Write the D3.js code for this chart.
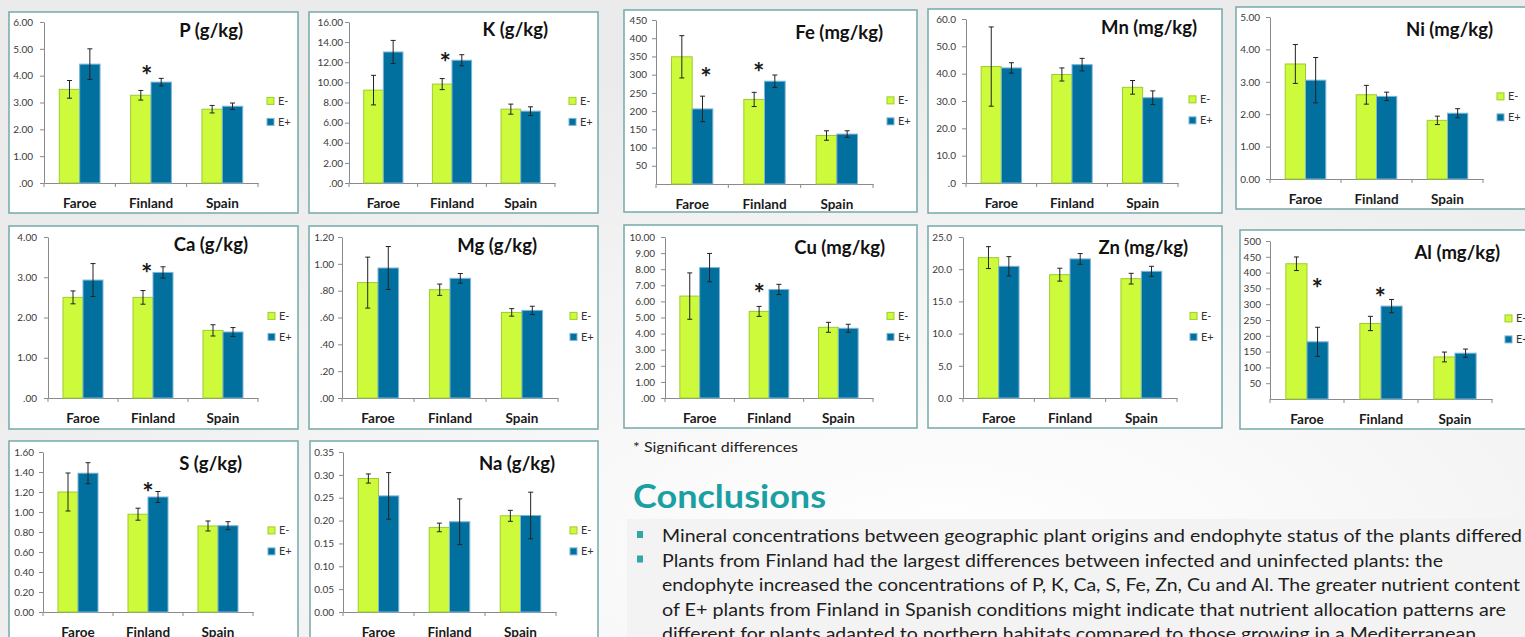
<!DOCTYPE html>
<html>
<head>
<meta charset="utf-8">
<script src="https://cdn.jsdelivr.net/npm/d3@7"></script>
<style>
  html, body { margin: 0; padding: 0; overflow: hidden; background: #f2f2f2; }
  svg { display: block; }
</style>
</head>
<body>
<svg id="slide" width="1525" height="637"></svg>
<script>
// ---- Data --------------------------------------------------------------
const categories = ["Faroe", "Finland", "Spain"];
const seriesNames = ["E-", "E+"];

// Mean concentrations per origin as [E-, E+], and standard errors in the same order
const P_means  = [[3.49, 4.43], [3.27, 3.76], [2.75, 2.86]];
const P_errors = [[0.33, 0.57], [0.18, 0.14], [0.14, 0.12]];
const P_ticks  = [".00", "1.00", "2.00", "3.00", "4.00", "5.00", "6.00"];

const K_means  = [[9.23, 13.02], [9.83, 12.2], [7.34, 7.14]];
const K_errors = [[1.47, 1.15], [0.55, 0.55], [0.5, 0.43]];
const K_ticks  = [".00", "2.00", "4.00", "6.00", "8.00", "10.00", "12.00", "14.00", "16.00"];

const Fe_means  = [[349, 206], [232, 282], [133, 137]];
const Fe_errors = [[58, 35], [19.5, 17], [13, 9]];
const Fe_ticks  = ["50", "100", "150", "200", "250", "300", "350", "400", "450"];

const Mn_means  = [[42.6, 42.1], [39.7, 43.3], [35.0, 31.2]];
const Mn_errors = [[14.5, 1.9], [2.4, 2.3], [2.5, 2.5]];
const Mn_ticks  = [".0", "10.0", "20.0", "30.0", "40.0", "50.0", "60.0"];

const Ni_means  = [[3.55, 3.05], [2.60, 2.55], [1.81, 2.03]];
const Ni_errors = [[0.6, 0.7], [0.29, 0.13], [0.13, 0.14]];
const Ni_ticks  = ["0.00", "1.00", "2.00", "3.00", "4.00", "5.00"];

const Ca_means  = [[2.50, 2.93], [2.50, 3.12], [1.68, 1.64]];
const Ca_errors = [[0.16, 0.41], [0.17, 0.14], [0.14, 0.11]];
const Ca_ticks  = [".00", "1.00", "2.00", "3.00", "4.00"];

const Mg_means  = [[0.86, 0.969], [0.807, 0.892], [0.638, 0.653]];
const Mg_errors = [[0.19, 0.16], [0.042, 0.036], [0.028, 0.031]];
const Mg_ticks  = [".00", ".20", ".40", ".60", ".80", "1.00", "1.20"];

const Cu_means  = [[6.33, 8.10], [5.38, 6.74], [4.39, 4.33]];
const Cu_errors = [[1.44, 0.88], [0.31, 0.32], [0.31, 0.25]];
const Cu_ticks  = [".00", "1.00", "2.00", "3.00", "4.00", "5.00", "6.00", "7.00", "8.00", "9.00", "10.00"];

const Zn_means  = [[21.8, 20.45], [19.15, 21.6], [18.53, 19.67]];
const Zn_errors = [[1.7, 1.5], [1.0, 0.83], [0.83, 0.78]];
const Zn_ticks  = ["0.0", "5.0", "10.0", "15.0", "20.0", "25.0"];

const Al_means  = [[428, 181], [239, 294], [133, 145]];
const Al_errors = [[21.5, 46], [22.6, 21], [15.5, 13]];
const Al_ticks  = ["50", "100", "150", "200", "250", "300", "350", "400", "450", "500"];

const S_means  = [[1.20, 1.388], [0.978, 1.15], [0.86, 0.863]];
const S_errors = [[0.19, 0.105], [0.06, 0.055], [0.05, 0.04]];
const S_ticks  = ["0.00", "0.20", "0.40", "0.60", "0.80", "1.00", "1.20", "1.40", "1.60"];

const Na_means  = [[0.292, 0.254], [0.185, 0.1974], [0.2104, 0.2111]];
const Na_errors = [[0.01, 0.051], [0.0094, 0.05], [0.012, 0.051]];
const Na_ticks  = ["0.00", "0.05", "0.10", "0.15", "0.20", "0.25", "0.30", "0.35"];

// Significance marks: origin, horizontal place within the origin's band (0..1), height in data units
const P_sig  = [{ origin: "Finland", pos: 0.44, level: 4.21 }];
const K_sig  = [{ origin: "Finland", pos: 0.40, level: 12.5 }];
const Fe_sig = [{ origin: "Faroe", pos: 0.69, level: 307 }, { origin: "Finland", pos: 0.42, level: 321 }];
const Ca_sig = [{ origin: "Finland", pos: 0.41, level: 3.23 }];
const Cu_sig = [{ origin: "Finland", pos: 0.36, level: 6.83 }];
const Al_sig = [{ origin: "Faroe", pos: 0.64, level: 367 }, { origin: "Finland", pos: 0.49, level: 339 }];
const S_sig  = [{ origin: "Finland", pos: 0.50, level: 1.25 }];

const footnote = "* Significant differences";
const heading = "Conclusions";
const bulletLines = [
  { text: "Mineral concentrations between geographic plant origins and endophyte status of the plants differed", bullet: true, w: 860 },
  { text: "Plants from Finland had the largest differences between infected and uninfected plants: the", bullet: true, w: 781 },
  { text: "endophyte increased the concentrations of P, K, Ca, S, Fe, Zn, Cu and Al. The greater nutrient content", bullet: false, w: 858 },
  { text: "of E+ plants from Finland in Spanish conditions might indicate that nutrient allocation patterns are", bullet: false, w: 844 },
  { text: "different for plants adapted to northern habitats compared to those growing in a Mediterranean", bullet: false, w: 814 }
];

// ---- Panels: data + placement on the slide ------------------------------
const panels = [
  { title: "P (g/kg)",   means: P_means,  errors: P_errors,  ticks: P_ticks,  sig: P_sig,
    box: [9, 12, 298, 213],    ax: 44,   ar: 258,  yt: 22,  yb: 183, tR: 243,  tB: 37,  legX: 267,  gap: 11 },
  { title: "K (g/kg)",   means: K_means,  errors: K_errors,  ticks: K_ticks,  sig: K_sig,
    box: [309, 12, 598, 213],  ax: 349,  ar: 555,  yt: 22,  yb: 183, tR: 548,  tB: 36,  legX: 569,  gap: 6 },
  { title: "Fe (mg/kg)", means: Fe_means, errors: Fe_errors, ticks: Fe_ticks, sig: Fe_sig,
    box: [624, 10, 917, 212],  ax: 656,  ar: 873,  yt: 20,  yb: 184, tR: 883,  tB: 39,  legX: 887,  gap: 9 },
  { title: "Mn (mg/kg)", means: Mn_means, errors: Mn_errors, ticks: Mn_ticks, sig: [],
    box: [928, 9, 1222, 213],  ax: 966,  ar: 1178, yt: 19,  yb: 183, tR: 1197, tB: 34,  legX: 1189, gap: 10 },
  { title: "Ni (mg/kg)", means: Ni_means, errors: Ni_errors, ticks: Ni_ticks, sig: [],
    box: [1236, 7, 1545, 209], ax: 1270, ar: 1483, yt: 17,  yb: 179, tR: 1493, tB: 36,  legX: 1497, gap: 10 },
  { title: "Ca (g/kg)",  means: Ca_means, errors: Ca_errors, ticks: Ca_ticks, sig: Ca_sig,
    box: [9, 226, 298, 429],   ax: 48,   ar: 258,  yt: 237, yb: 398, tR: 248,  tB: 251, legX: 268,  gap: 11 },
  { title: "Mg (g/kg)",  means: Mg_means, errors: Mg_errors, ticks: Mg_ticks, sig: [],
    box: [309, 226, 598, 429], ax: 342,  ar: 558,  yt: 237, yb: 398, tR: 537,  tB: 252, legX: 570,  gap: 8 },
  { title: "Cu (mg/kg)", means: Cu_means, errors: Cu_errors, ticks: Cu_ticks, sig: Cu_sig,
    box: [624, 225, 917, 428], ax: 665,  ar: 873,  yt: 237, yb: 398, tR: 885,  tB: 254, legX: 887,  gap: 10 },
  { title: "Zn (mg/kg)", means: Zn_means, errors: Zn_errors, ticks: Zn_ticks, sig: [],
    box: [928, 226, 1222, 428], ax: 963, ar: 1177, yt: 237, yb: 398, tR: 1188, tB: 254, legX: 1190, gap: 11 },
  { title: "Al (mg/kg)", means: Al_means, errors: Al_errors, ticks: Al_ticks, sig: Al_sig,
    box: [1240, 230, 1545, 429], ax: 1270, ar: 1492, yt: 241, yb: 399, tR: 1500, tB: 259, legX: 1505, gap: 9 },
  { title: "S (g/kg)",   means: S_means,  errors: S_errors,  ticks: S_ticks,  sig: S_sig,
    box: [9, 441, 298, 665],   ax: 43,   ar: 253,  yt: 452, yb: 612, tR: 242,  tB: 470, legX: 268,  gap: 9 },
  { title: "Na (g/kg)",  means: Na_means, errors: Na_errors, ticks: Na_ticks, sig: [],
    box: [310, 441, 598, 665], ax: 343,  ar: 556,  yt: 452, yb: 612, tR: 555,  tB: 470, legX: 570,  gap: 9 }
];

// ---- Styles -------------------------------------------------------------
const FONT = "Lato, 'Open Sans', 'DejaVu Sans', sans-serif";
const colors = { "E-": "#cdfb3b", "E+": "#02709f" };
const edges  = { "E-": "#9ccd2c", "E+": "#7db5d5" };
const axisColor = "#8a8a8a";
const frameColor = "#74a9a9";
const teal = "#1aa0a3";

const svg = d3.select("#slide");

// Slide background
const defs = svg.append("defs");
const bg = defs.append("radialGradient").attr("id", "bgGrad")
  .attr("cx", 0.62).attr("cy", 0.85).attr("r", 0.75);
bg.append("stop").attr("offset", "0%").attr("stop-color", "#ffffff");
bg.append("stop").attr("offset", "100%").attr("stop-color", "#ebebeb");
svg.append("rect").attr("width", 1525).attr("height", 637).attr("fill", "url(#bgGrad)");

// ---- One grouped bar chart per element ----------------------------------
panels.forEach(p => {
  const g = svg.append("g");
  const [x0, y0, x1, y1] = p.box;

  g.append("rect")
    .attr("x", x0).attr("y", y0).attr("width", x1 - x0).attr("height", y1 - y0)
    .attr("fill", "#ffffff").attr("stroke", frameColor).attr("stroke-width", 1.5);

  const tickVals = p.ticks.map(t => parseFloat(t));
  const y = d3.scaleLinear().domain([0, d3.max(tickVals)]).range([p.yb, p.yt]);
  const x = d3.scaleBand().domain(categories).range([p.ax, p.ar]).paddingInner(0).paddingOuter(0);
  const xs = d3.scaleBand().domain(seriesNames).range([0, x.bandwidth()]).paddingInner(0).paddingOuter(0.75);

  // y axis
  const yAxis = d3.axisLeft(y)
    .tickValues(tickVals)
    .tickFormat((d, i) => p.ticks[i])
    .tickSize(4).tickSizeOuter(0)
    .tickPadding(p.gap - 4);
  const ya = g.append("g").attr("transform", `translate(${p.ax},0)`).call(yAxis);
  ya.select(".domain").attr("stroke", axisColor);
  ya.selectAll(".tick line").attr("stroke", axisColor);
  ya.selectAll(".tick text")
    .attr("fill", "#3a3a3a").style("font-family", FONT).style("font-size", "10px");

  // x axis: baseline, boundary ticks and origin labels
  const xAxis = d3.axisBottom(x).tickSize(0).tickPadding(15);
  const xa = g.append("g").attr("transform", `translate(0,${p.yb})`).call(xAxis);
  xa.select(".domain").attr("stroke", axisColor);
  xa.selectAll(".tick text")
    .attr("fill", "#1a1a1a").style("font-family", FONT).style("font-size", "13.5px").style("font-weight", 700);
  const bounds = categories.map(c => x(c)).concat([x(categories[categories.length - 1]) + x.bandwidth()]);
  g.selectAll(".xb").data(bounds).enter().append("line")
    .attr("x1", d => d).attr("x2", d => d)
    .attr("y1", p.yb).attr("y2", p.yb + 4)
    .attr("stroke", axisColor);

  // bars and error bars
  const rows = [];
  categories.forEach((c, ci) => seriesNames.forEach((s, si) => {
    rows.push({ c, s, v: p.means[ci][si], e: p.errors[ci][si] });
  }));

  g.selectAll(".bar").data(rows).enter().append("rect")
    .attr("x", d => x(d.c) + xs(d.s))
    .attr("y", d => y(d.v))
    .attr("width", xs.bandwidth())
    .attr("height", d => p.yb - y(d.v))
    .attr("fill", d => colors[d.s])
    .attr("stroke", d => edges[d.s])
    .attr("stroke-width", 1);

  const eb = g.selectAll(".err").data(rows).enter().append("g")
    .attr("transform", d => `translate(${x(d.c) + xs(d.s) + xs.bandwidth() / 2},0)`);
  eb.append("line").attr("x1", 0).attr("x2", 0)
    .attr("y1", d => y(d.v + d.e)).attr("y2", d => y(d.v - d.e))
    .attr("stroke", "#222").attr("stroke-width", 1);
  eb.append("line").attr("x1", -2.5).attr("x2", 2.5)
    .attr("y1", d => y(d.v + d.e)).attr("y2", d => y(d.v + d.e))
    .attr("stroke", "#222").attr("stroke-width", 1);
  eb.append("line").attr("x1", -2.5).attr("x2", 2.5)
    .attr("y1", d => y(d.v - d.e)).attr("y2", d => y(d.v - d.e))
    .attr("stroke", "#222").attr("stroke-width", 1);

  // significance asterisks
  g.selectAll(".sig").data(p.sig).enter().append("text")
    .attr("x", d => x(d.origin) + d.pos * x.bandwidth())
    .attr("y", d => y(d.level) + 15)
    .attr("text-anchor", "middle")
    .style("font-family", FONT).style("font-size", "27px").style("font-weight", 700)
    .attr("fill", "#1a1a1a")
    .text("*");

  // title
  g.append("text")
    .attr("x", p.tR).attr("y", p.tB)
    .attr("text-anchor", "end")
    .style("font-family", FONT).style("font-size", "18.5px").style("font-weight", 700)
    .attr("fill", "#111")
    .text(p.title);

  // legend
  const legMid = p.yt + 0.49 * (p.yb - p.yt);
  const leg = g.selectAll(".leg").data(seriesNames).enter().append("g")
    .attr("transform", (d, i) => `translate(${p.legX},${legMid + i * 21})`);
  leg.append("rect").attr("x", 0).attr("y", -3.5).attr("width", 7).attr("height", 7)
    .attr("fill", d => colors[d]).attr("stroke", d => edges[d]).attr("stroke-width", 1);
  leg.append("text").attr("x", 11).attr("y", 4)
    .style("font-family", FONT).style("font-size", "11px")
    .attr("fill", "#333")
    .text(d => d);
});

// ---- Footnote and conclusions ------------------------------------------
svg.append("text")
  .attr("x", 633).attr("y", 452)
  .attr("textLength", 165).attr("lengthAdjust", "spacingAndGlyphs")
  .style("font-family", FONT).style("font-size", "13.5px")
  .attr("fill", "#222")
  .text(footnote);

svg.append("text")
  .attr("x", 633).attr("y", 508)
  .attr("textLength", 193).attr("lengthAdjust", "spacingAndGlyphs")
  .style("font-family", FONT).style("font-size", "33px").style("font-weight", 700)
  .attr("fill", teal)
  .text(heading);

svg.append("rect")
  .attr("x", 627).attr("y", 519).attr("width", 900).attr("height", 130)
  .attr("fill", "#f3f3f3");

const lineStep = 24.5;
const firstBase = 542;
const bl = svg.selectAll(".bl").data(bulletLines).enter().append("g");
bl.filter(d => d.bullet).append("rect")
  .attr("x", 637).attr("y", (d, i) => firstBase + i * lineStep - 11)
  .attr("width", 6).attr("height", 7)
  .attr("fill", "#2fa6a8");
bl.append("text")
  .attr("x", 662).attr("y", (d, i) => firstBase + i * lineStep)
  .attr("textLength", d => d.w).attr("lengthAdjust", "spacingAndGlyphs")
  .style("font-family", FONT).style("font-size", "18px")
  .attr("fill", "#1e1e1e")
  .text(d => d.text);
</script>
</body>
</html>
